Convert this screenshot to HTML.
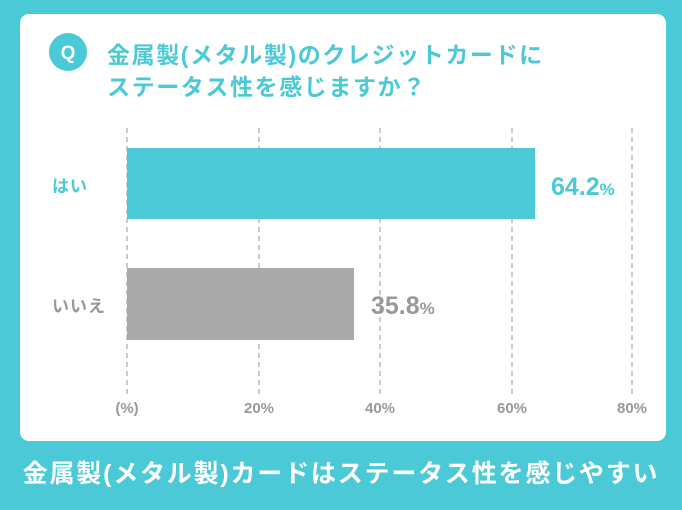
<!DOCTYPE html>
<html><head><meta charset="utf-8"><style>
body{margin:0;width:682px;height:510px;background:#4bc9d6;position:relative;overflow:hidden;font-family:"Liberation Sans","Noto Sans CJK JP",sans-serif;font-weight:bold}
.card{position:absolute;left:20px;top:14px;width:646px;height:427px;background:#fff;border-radius:9px}
.a{position:absolute;white-space:nowrap}
</style></head><body>
<div class="card"></div>
<svg class="a" style="left:0;top:0" width="682" height="510">
<circle cx="68" cy="52" r="19" fill="#4bc9d6"/>
<text x="68" y="59" font-size="19" fill="#fff" text-anchor="middle" font-family="Liberation Sans, sans-serif" font-weight="bold">Q</text>
<g stroke="#999" stroke-width="1" stroke-dasharray="5,4">
<line x1="127" y1="128" x2="127" y2="395"/><line x1="259" y1="128" x2="259" y2="395"/><line x1="380" y1="128" x2="380" y2="395"/><line x1="512" y1="128" x2="512" y2="395"/><line x1="632" y1="128" x2="632" y2="395"/>
</g>
<rect x="127" y="148" width="408" height="71" fill="#4bc9d6"/>
<rect x="127" y="268" width="227" height="72" fill="#aaaaaa"/>
<g font-size="15" fill="#999" text-anchor="middle" font-weight="bold">
<text x="127" y="413">(%)</text><text x="259" y="413">20%</text><text x="380" y="413">40%</text><text x="512" y="413">60%</text><text x="632" y="413">80%</text>
</g>
<text x="52" y="192" font-size="17" fill="#4bc9d6" font-weight="bold" letter-spacing="1">はい</text>
<text x="52" y="312" font-size="17" fill="#999" font-weight="bold" letter-spacing="1">いいえ</text>
<text x="551" y="195" font-size="25" fill="#4bc9d6" font-weight="bold">64.2<tspan font-size="17">%</tspan></text>
<text x="371" y="314" font-size="25" fill="#999" font-weight="bold">35.8<tspan font-size="17">%</tspan></text>
<text x="107" y="63" font-size="23" fill="#4bc9d6" font-weight="bold" letter-spacing="1.6">金属製(メタル製)のクレジットカードに</text>
<text x="107" y="95" font-size="23" fill="#4bc9d6" font-weight="bold" letter-spacing="1.6">ステータス性を感じますか？</text>
<text x="341" y="482" font-size="25" fill="#fff" text-anchor="middle" font-weight="bold" letter-spacing="1.8">金属製(メタル製)カードはステータス性を感じやすい</text>
</svg>
</body></html>
